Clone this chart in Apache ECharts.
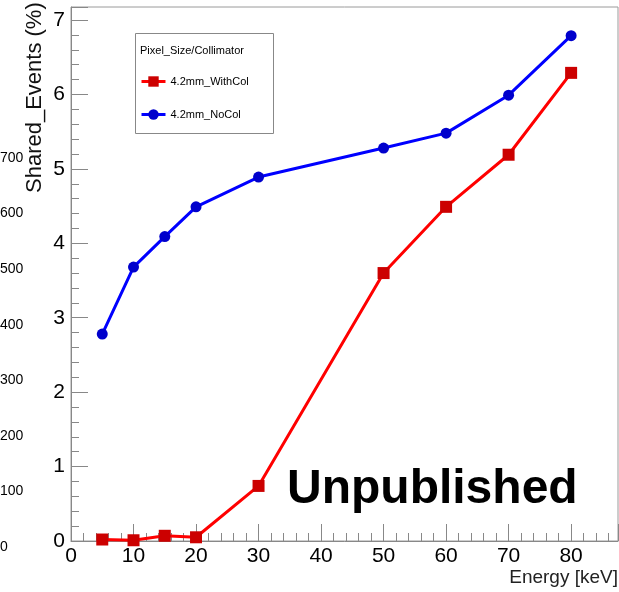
<!DOCTYPE html>
<html>
<head>
<meta charset="utf-8">
<script src="https://cdn.jsdelivr.net/npm/echarts@6.0.0/dist/echarts.min.js"></script>
<style>
  html, body { margin: 0; padding: 0; background: #fff; }
  #chart { width: 619px; height: 592px; }
</style>
</head>
<body>
<div id="chart"></div>
<script>
// energy points (keV)
const energy = [5, 10, 15, 20, 30, 50, 60, 70, 80]
// shared events (%)
const withCol = [0.02, 0.01, 0.07, 0.05, 0.74, 3.60, 4.49, 5.19, 6.29]
const noCol = [2.78, 3.68, 4.09, 4.49, 4.89, 5.28, 5.48, 5.99, 6.79]
const seriesNames = ['4.2mm_WithCol', '4.2mm_NoCol']
// leftover tick labels of a neighbouring plot at the left edge
const strayTicks = [0, 100, 200, 300, 400, 500, 600, 700]

const FONT = 'Liberation Sans, Arial, Helvetica, sans-serif'
const toPairs = (xs, ys) => xs.map((x, i) => [x, ys[i]])

const chart = echarts.init(document.getElementById('chart'), null, { renderer: 'canvas' })

const option = {
    animation: false,
    backgroundColor: '#fff',
    textStyle: { fontFamily: FONT },
    grid: [
        { left: 71, right: 1, top: 7, bottom: 51, outerBoundsMode: 'none', show: true, borderColor: '#9a9a9a', borderWidth: 1, backgroundColor: 'transparent' },
        { left: 30, width: 10, top: 158, bottom: 45, outerBoundsMode: 'none' }
    ],
    xAxis: [
        {
            type: 'value', gridIndex: 0, min: 0, max: 87.5, interval: 10,
            name: 'Energy [keV]', nameLocation: 'end', nameGap: 0,
            nameTextStyle: { fontSize: 19, color: '#222', align: 'right', verticalAlign: 'top', padding: [27, 0, 0, 0], fontFamily: FONT },
            axisLine: { show: true, lineStyle: { color: '#888', width: 1 } },
            axisTick: { show: true, inside: true, length: 17, lineStyle: { color: '#888' } },
            minorTick: { show: true, splitNumber: 5, length: 8, lineStyle: { color: '#888' } },
            axisLabel: {
                fontSize: 21, color: '#000', margin: 5, fontFamily: FONT, showMaxLabel: false,
                formatter: v => (v % 10 === 0 ? String(v) : '')
            },
            splitLine: { show: false }
        },
        { type: 'value', gridIndex: 1, show: false }
    ],
    yAxis: [
        {
            type: 'value', gridIndex: 0, min: 0, max: 7.175, interval: 1,
            axisLine: { show: true, lineStyle: { color: '#888', width: 1 } },
            axisTick: { show: true, inside: true, length: 17, lineStyle: { color: '#888' } },
            minorTick: { show: true, splitNumber: 5, length: 8, lineStyle: { color: '#888' } },
            axisLabel: { fontSize: 21, color: '#000', margin: 6, fontFamily: FONT, formatter: v => (v % 1 === 0 ? String(v) : '') },
            splitLine: { show: false }
        },
        {
            type: 'value', gridIndex: 1, min: strayTicks[0], max: strayTicks[strayTicks.length - 1],
            interval: strayTicks[1] - strayTicks[0],
            axisLine: { show: false }, axisTick: { show: false }, splitLine: { show: false },
            axisLabel: { fontSize: 14, color: '#000', margin: 30, align: 'left', fontFamily: FONT }
        }
    ],
    legend: {
        left: 140, top: 76, orient: 'vertical', z: 20, padding: 0,
        itemWidth: 24, itemHeight: 13, itemGap: 22,
        lineStyle: { width: 3 },
        textStyle: { fontSize: 11, color: '#000', fontFamily: FONT },
        data: seriesNames
    },
    graphic: [
        { type: 'rect', left: 135, top: 33, z: 5, shape: { width: 138, height: 100 }, style: { fill: '#fff', stroke: '#888', lineWidth: 1 } },
        { type: 'text', x: 140, y: 51, z: 6, style: { text: 'Pixel_Size/Collimator', font: '11px ' + FONT, fill: '#000', textVerticalAlign: 'middle' } },
        { type: 'text', x: 46, y: 193, rotation: Math.PI / 2, z: 6, style: { text: 'Shared_Events (%)', font: '22px ' + FONT, fill: '#111', textAlign: 'left', textVerticalAlign: 'bottom' } },
        { type: 'text', x: 287, y: 514, z: 6, style: { text: 'Unpublished', font: 'bold 48px ' + FONT, fill: '#000', textAlign: 'left', textVerticalAlign: 'bottom' } }
    ],
    series: [
        {
            name: seriesNames[0], type: 'line', xAxisIndex: 0, yAxisIndex: 0, z: 3,
            data: toPairs(energy, withCol),
            symbol: 'rect', symbolSize: 12,
            lineStyle: { color: '#ff0000', width: 3 },
            itemStyle: { color: '#cc0000' }
        },
        {
            name: seriesNames[1], type: 'line', xAxisIndex: 0, yAxisIndex: 0, z: 3,
            data: toPairs(energy, noCol),
            symbol: 'circle', symbolSize: 11,
            lineStyle: { color: '#0000ff', width: 3 },
            itemStyle: { color: '#0000cc' }
        }
    ]
}

chart.setOption(option)
</script>
</body>
</html>
